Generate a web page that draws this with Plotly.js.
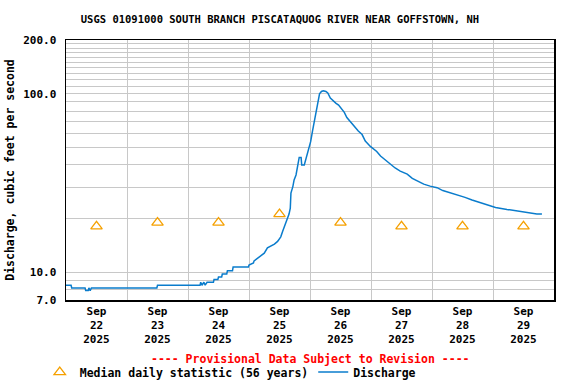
<!DOCTYPE html>
<html>
<head>
<meta charset="utf-8">
<script src="https://cdn.plot.ly/plotly-3.0.1.min.js"></script>
<style>html,body{margin:0;padding:0;background:#fff;}#chart{width:576px;height:384px;}</style>
</head>
<body>
<div id="chart"></div>
<script>
const dischargeTimes = [
"2025-09-22 00:00","2025-09-22 02:00","2025-09-22 02:15","2025-09-22 07:30","2025-09-22 07:45","2025-09-22 08:45",
"2025-09-22 09:00","2025-09-22 09:30","2025-09-22 10:00","2025-09-23 11:45","2025-09-23 12:00","2025-09-24 04:45",
"2025-09-24 05:00","2025-09-24 05:30","2025-09-24 06:15","2025-09-24 06:45","2025-09-24 07:30","2025-09-24 10:00",
"2025-09-24 10:15","2025-09-24 11:45","2025-09-24 12:00","2025-09-24 13:15","2025-09-24 13:30","2025-09-24 15:15",
"2025-09-24 15:30","2025-09-24 17:30","2025-09-24 17:45","2025-09-24 23:45","2025-09-25 00:00","2025-09-25 01:45",
"2025-09-25 02:00","2025-09-25 03:30","2025-09-25 05:00","2025-09-25 06:00","2025-09-25 07:15","2025-09-25 10:00",
"2025-09-25 11:15","2025-09-25 12:30","2025-09-25 13:15","2025-09-25 14:00","2025-09-25 14:45","2025-09-25 15:45",
"2025-09-25 16:15","2025-09-25 16:30","2025-09-25 17:15","2025-09-25 17:45","2025-09-25 18:30","2025-09-25 19:00",
"2025-09-25 19:30","2025-09-25 19:45","2025-09-25 20:30","2025-09-25 20:45","2025-09-25 21:45","2025-09-25 22:15",
"2025-09-25 22:45","2025-09-25 23:30","2025-09-26 00:15","2025-09-26 01:00","2025-09-26 01:45","2025-09-26 02:30",
"2025-09-26 03:15","2025-09-26 03:45","2025-09-26 04:30","2025-09-26 05:15","2025-09-26 06:15","2025-09-26 07:00",
"2025-09-26 08:00","2025-09-26 09:15","2025-09-26 10:15","2025-09-26 11:15","2025-09-26 12:30","2025-09-26 13:30",
"2025-09-26 14:30","2025-09-26 15:45","2025-09-26 17:45","2025-09-26 19:00","2025-09-26 20:30","2025-09-26 21:45",
"2025-09-26 23:45","2025-09-27 02:15","2025-09-27 03:45","2025-09-27 05:30","2025-09-27 07:30","2025-09-27 09:30",
"2025-09-27 11:30","2025-09-27 14:15","2025-09-27 16:15","2025-09-27 18:45","2025-09-27 20:45","2025-09-27 23:15",
"2025-09-28 02:00","2025-09-28 04:15","2025-09-28 07:15","2025-09-28 09:45","2025-09-28 13:00","2025-09-28 15:45",
"2025-09-28 21:00","2025-09-29 01:00","2025-09-29 05:30","2025-09-29 10:45","2025-09-29 17:15","2025-09-29 19:15"
];
const dischargeValues = [
8.47,8.47,8.18,8.18,7.90,7.90,
8.18,7.90,8.18,8.18,8.47,8.47,
8.80,8.47,8.80,8.47,8.80,8.80,
9.12,9.12,9.42,9.42,9.79,9.79,
10.2,10.2,10.7,10.7,11.0,11.3,
11.6,12.0,12.5,12.8,13.7,14.4,
14.9,15.8,17.0,18.2,19.9,21.2,
22.9,27.8,30.2,32.9,35.1,38.2,
40.8,44.0,44.0,39.9,39.9,42.6,
45.4,49.5,53.9,61.9,69.8,81.1,
92.3,100,103,104,103,101,
94.7,90.5,88.4,86.5,82.1,78.7,
73.6,69.9,64.7,61.9,59.1,54.4,
50.7,47.5,44.8,42.6,40.4,38.4,
36.9,35.5,33.6,32.2,31.2,30.4,
29.8,28.7,27.9,27.1,26.3,25.4,
24.1,23.1,22.5,21.9,21.2,21.2
];
const medianDates = ["2025-09-22 12:00","2025-09-23 12:00","2025-09-24 12:00","2025-09-25 12:00",
                     "2025-09-26 12:00","2025-09-27 12:00","2025-09-28 12:00","2025-09-29 12:00"];
const medianValues = [18.1, 19.0, 19.0, 21.2, 19.0, 18.1, 18.1, 18.1];
const xTickLabels = ["Sep<br>22<br>2025","Sep<br>23<br>2025","Sep<br>24<br>2025","Sep<br>25<br>2025",
                     "Sep<br>26<br>2025","Sep<br>27<br>2025","Sep<br>28<br>2025","Sep<br>29<br>2025"];
const yTickVals = [7,8,9,10,20,30,40,50,60,70,80,90,100,110,120,130,140,150,160,170,180,190,200];
const yTickText = ["7.0","","","10.0","","","","","","","","","100.0","","","","","","","","","","200.0"];

const FONT = "DejaVu Sans Mono";
const traces = [
  {x: medianDates, y: medianValues, type: "scatter", mode: "markers",
   name: "<b>Median daily statistic (56 years)</b>",
   marker: {symbol: "triangle-up-open", size: 10, color: "#f5a000", line: {width: 1.3, color: "#f5a000"}},
   hoverinfo: "skip"},
  {x: dischargeTimes, y: dischargeValues, type: "scatter", mode: "lines",
   name: "<b>Discharge</b>", line: {color: "#0a7ccc", width: 1.5}, hoverinfo: "skip"}
];
const layout = {
  width: 576, height: 384,
  margin: {l: 66, r: 22, t: 40, b: 84},
  paper_bgcolor: "#fff", plot_bgcolor: "#fff",
  font: {family: FONT, size: 11, color: "#000"},
  title: {text: "<b>USGS 01091000 SOUTH BRANCH PISCATAQUOG RIVER NEAR GOFFSTOWN, NH</b>",
          font: {family: FONT, size: 10.5, color: "#000"},
          x: 0.486, xref: "container", xanchor: "center", y: 0.95, yref: "container", yanchor: "middle"},
  xaxis: {type: "date", range: ["2025-09-22 00:00", "2025-09-30 00:00"],
          tickmode: "array", tickvals: medianDates, ticktext: xTickLabels.map(t => "<b>" + t + "</b>"),
          showgrid: false, ticks: "", tickfont: {family: FONT, size: 11},
          minor: {tickmode: "linear", tick0: "2025-09-22 00:00", dtick: 86400000, showgrid: true,
                  gridcolor: "#c8c8c8", gridwidth: 1, ticks: ""},
          showline: true, mirror: true, linecolor: "#000", linewidth: 1.5, zeroline: false, fixedrange: true},
  yaxis: {type: "log", range: [Math.log10(7), Math.log10(200)],
          tickmode: "array", tickvals: yTickVals, ticktext: yTickText.map(t => t ? "<b>" + t + "</b>" : ""),
          showgrid: true, gridcolor: "#c8c8c8", gridwidth: 1, ticks: "", ticklabelstandoff: 6,
          tickfont: {family: FONT, size: 11},
          title: {text: "<b>Discharge, cubic feet per second</b>", font: {family: FONT, size: 11.5}, standoff: 6},
          showline: true, mirror: true, linecolor: "#000", linewidth: 1.5, zeroline: false, fixedrange: true},
  showlegend: true,
  legend: {orientation: "h", x: 0.069, xref: "container", xanchor: "left", y: 0.031, yref: "container", yanchor: "middle",
           font: {family: FONT, size: 11.5, color: "#000"}, itemwidth: 30, bgcolor: "rgba(0,0,0,0)",
           traceorder: "normal"},
  annotations: [{text: "<b>---- Provisional Data Subject to Revision ----</b>", xref: "paper", yref: "paper",
                 x: 0.5, y: -0.227, xanchor: "center", yanchor: "middle", showarrow: false,
                 font: {family: FONT, size: 11.5, color: "#ff0000"}}]
};
Plotly.newPlot("chart", traces, layout, {displayModeBar: false, staticPlot: true});
</script>
</body>
</html>
